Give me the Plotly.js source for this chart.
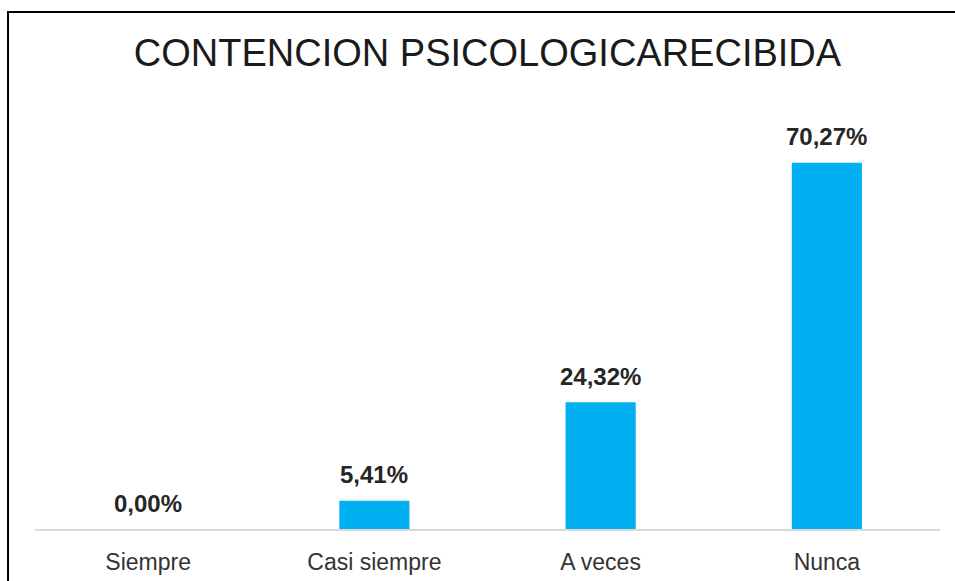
<!DOCTYPE html>
<html>
<head>
<meta charset="utf-8">
<script src="https://cdn.plot.ly/plotly-3.0.1.min.js"></script>
<style>
  html, body { margin: 0; padding: 0; background: #ffffff; }
  #chart { width: 955px; height: 581px; }
</style>
</head>
<body>
<div id="chart"></div>
<script>
// datos
var categorias = ["Siempre", "Casi siempre", "A veces", "Nunca"];
var porcentajes = [0.00, 5.41, 24.32, 70.27];
var etiquetas = ["0,00%", "5,41%", "24,32%", "70,27%"];

var barColor = "#00B0F0";

var trace = {
    type: "bar",
    x: categorias,
    y: porcentajes,
    marker: { color: barColor },
    hoverinfo: "none"
};

// etiquetas de datos encima de cada barra
var anotaciones = [];
for (var i = 0; i < categorias.length; i++) {
    anotaciones.push({
        x: categorias[i],
        y: porcentajes[i],
        xref: "x",
        yref: "y",
        text: etiquetas[i],
        showarrow: false,
        yanchor: "middle",
        yshift: 26,
        font: { family: "Liberation Sans, Arial, sans-serif", size: 24, color: "#262626", weight: "bold" }
    });
}

var layout = {
    width: 955,
    height: 581,
    margin: { l: 35, r: 15, t: 112, b: 52 },
    paper_bgcolor: "#ffffff",
    plot_bgcolor: "#ffffff",
    bargap: 0.69,
    showlegend: false,
    title: {
        text: "CONTENCION PSICOLOGICARECIBIDA",
        font: { family: "Liberation Sans, Arial, sans-serif", size: 38, color: "#1a1a1a" },
        x: 0.5,
        xref: "paper",
        xanchor: "center",
        y: 0.91,
        yref: "container",
        yanchor: "middle"
    },
    xaxis: {
        showline: true,
        linecolor: "#d9d9d9",
        linewidth: 1.5,
        ticks: "",
        ticklabelstandoff: 12,
        tickfont: { family: "Liberation Sans, Arial, sans-serif", size: 23, color: "#333333" },
        showgrid: false,
        zeroline: false,
        fixedrange: true
    },
    yaxis: {
        range: [0, 80],
        showticklabels: false,
        showgrid: false,
        zeroline: false,
        showline: false,
        ticks: "",
        fixedrange: true
    },
    annotations: anotaciones,
    shapes: [
        {
            // marco exterior (solo borde izquierdo y superior visibles)
            type: "path",
            xref: "paper",
            yref: "paper",
            path: "M -0.0298,-0.2 L -0.0298,1.2398 L 1.05,1.2398",
            line: { color: "#000000", width: 2 }
        }
    ]
};

var config = { staticPlot: true, displayModeBar: false, responsive: false };

Plotly.newPlot("chart", [trace], layout, config);
</script>
</body>
</html>
